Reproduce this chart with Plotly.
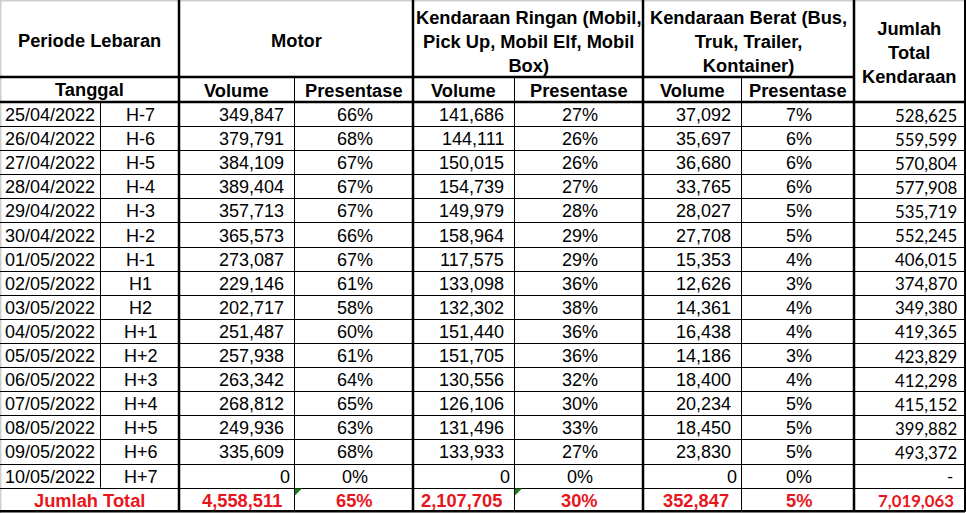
import plotly.graph_objects as go

# --- data ---
tanggal = ["25/04/2022", "26/04/2022", "27/04/2022", "28/04/2022", "29/04/2022",
           "30/04/2022", "01/05/2022", "02/05/2022", "03/05/2022", "04/05/2022",
           "05/05/2022", "06/05/2022", "07/05/2022", "08/05/2022", "09/05/2022",
           "10/05/2022"]
hari = ["H-7", "H-6", "H-5", "H-4", "H-3", "H-2", "H-1", "H1", "H2",
        "H+1", "H+2", "H+3", "H+4", "H+5", "H+6", "H+7"]
motor_vol = [349847, 379791, 384109, 389404, 357713, 365573, 273087, 229146,
             202717, 251487, 257938, 263342, 268812, 249936, 335609, 0]
motor_pct = [66, 68, 67, 67, 67, 66, 67, 61, 58, 60, 61, 64, 65, 63, 68, 0]
ringan_vol = [141686, 144111, 150015, 154739, 149979, 158964, 117575, 133098,
              132302, 151440, 151705, 130556, 126106, 131496, 133933, 0]
ringan_pct = [27, 26, 26, 27, 28, 29, 29, 36, 38, 36, 36, 32, 30, 33, 27, 0]
berat_vol = [37092, 35697, 36680, 33765, 28027, 27708, 15353, 12626,
             14361, 16438, 14186, 18400, 20234, 18450, 23830, 0]
berat_pct = [7, 6, 6, 6, 5, 5, 4, 3, 4, 4, 3, 4, 5, 5, 5, 0]
total_kend = [528625, 559599, 570804, 577908, 535719, 552245, 406015, 374870,
              349380, 419365, 423829, 412298, 415152, 399882, 493372, None]

jumlah_vol = [4558511, 2107705, 352847]
jumlah_pct = [65, 30, 5]
jumlah_total = 7019063

# --- layout geometry (pixels) ---
W, H = 966, 513
X = [0, 100, 179, 294, 413, 514, 643, 741, 854, 965]
HEAD1, HEAD2 = 77, 102
ROW_H = 24.1
n = len(tanggal)
Y_TOT = HEAD2 + n * ROW_H
Y_END = Y_TOT + ROW_H

FONT = "Liberation Sans, Arial, sans-serif"
FONT2 = "Lato, Calibri, sans-serif"
FS = 18
FS_BOLD = 18.3
FS2 = 16.8
RED = "#e8161c"

fig = go.Figure()
shapes = []


def line(x0, y0, x1, y1, w=1, color="black"):
    shapes.append(dict(type="line", xref="x", yref="y", x0=x0, y0=y0, x1=x1, y1=y1,
                       line=dict(color=color, width=w)))


# frame of the screenshot
line(0.5, 0, 0.5, H, 2, "#cfcfcf")
line(0, 0.5, W, 0.5, 2, "#cfcfcf")

# horizontal rules
line(0, HEAD1, X[8], HEAD1, 2.5)
line(0, HEAD2, W, HEAD2, 2.5)
for i in range(1, n + 1):
    yy = round(HEAD2 + i * ROW_H) + 0.5
    line(0, yy, X[9], yy, 1)
line(0, Y_END - 0.5, X[9], Y_END - 0.5, 2.5)

# vertical rules
for xx in [X[2], X[4], X[6], X[8]]:
    line(xx, 0, xx, Y_END, 2.5)
for xx in [X[3], X[5], X[7]]:
    line(xx + 0.5, HEAD1, xx + 0.5, Y_END, 1)
line(X[1] + 0.5, HEAD2, X[1] + 0.5, Y_TOT, 1)
line(X[9], 0, X[9], Y_END, 2)

# green error-indicator triangles
for xx in [X[3], X[5]]:
    shapes.append(dict(type="path", xref="x", yref="y",
                       path=f"M {xx+1},{Y_TOT+1} L {xx+8},{Y_TOT+1} L {xx+1},{Y_TOT+8} Z",
                       fillcolor="#1f7a1f", line=dict(width=0)))

ann = []


def text(x, y, s, anchor="center", bold=False, color="black", family=FONT, size=None):
    if size is None:
        size = FS_BOLD if bold else FS
    if bold:
        s = f"<b>{s}</b>"
    ann.append(dict(x=x, y=y, xref="x", yref="y", text=s, showarrow=False,
                    xanchor=anchor, yanchor="middle",
                    font=dict(family=family, size=size, color=color)))


# header
mid = lambda a, b: (a + b) / 2
text(mid(X[0], X[2]), 40, "Periode Lebaran", bold=True)
text(mid(X[2], X[4]), 40, "Motor", bold=True)
text(mid(X[4], X[6]), 41, "Kendaraan Ringan (Mobil,<br>Pick Up, Mobil Elf, Mobil<br>Box)", bold=True)
text(mid(X[6], X[8]), 41, "Kendaraan Berat (Bus,<br>Truk, Trailer,<br>Kontainer)", bold=True)
text(mid(X[8], X[9]), 52, "Jumlah<br>Total<br>Kendaraan", bold=True)
text(mid(X[0], X[2]), 89.5, "Tanggal", bold=True)
for k in range(3):
    text(mid(X[2 + 2 * k], X[3 + 2 * k]), 90.5, "Volume", bold=True)
    text(mid(X[3 + 2 * k], X[4 + 2 * k]), 90.5, "Presentase", bold=True)


def vol_text(v):
    return f"{v:,}"


# body
for i in range(n):
    yc = HEAD2 + (i + 0.5) * ROW_H + 1
    text(X[0] + 3, yc, tanggal[i], anchor="left")
    text(mid(X[1], X[2]) + 1, yc, hari[i])
    vols = [motor_vol[i], ringan_vol[i], berat_vol[i]]
    pcts = [motor_pct[i], ringan_pct[i], berat_pct[i]]
    for k in range(3):
        right = X[3 + 2 * k]
        off = 8 if vols[k] else 2
        text(right - off, yc, vol_text(vols[k]), anchor="right")
        text(mid(X[3 + 2 * k], X[4 + 2 * k]) + 1, yc, f"{pcts[k]}%")
    if total_kend[i] is None:
        text(X[9] - 10, yc, "-", anchor="right", family=FONT2, size=FS2)
    else:
        text(X[9] - 6, yc, vol_text(total_kend[i]), anchor="right", family=FONT2, size=FS2)

# total row
yc = Y_TOT + ROW_H / 2 + 1
text(mid(X[0], X[2]), yc, "Jumlah Total", bold=True, color=RED)
for k in range(3):
    text(X[3 + 2 * k] - 10, yc, vol_text(jumlah_vol[k]), anchor="right", bold=True, color=RED)
    text(mid(X[3 + 2 * k], X[4 + 2 * k]) + 1, yc, f"{jumlah_pct[k]}%", bold=True, color=RED)
text(X[9] - 9, yc, vol_text(jumlah_total), anchor="right", bold=True, color=RED,
     family=FONT2, size=FS2)

fig.update_layout(
    width=W, height=H,
    margin=dict(l=0, r=0, t=0, b=0),
    paper_bgcolor="white", plot_bgcolor="white",
    xaxis=dict(range=[0, W], visible=False, fixedrange=True),
    yaxis=dict(range=[H, 0], visible=False, fixedrange=True),
    shapes=shapes, annotations=ann, showlegend=False,
)

# the page's default body margin would push the table 8px down and right
fig.write_html("out.html", config={"displayModeBar": False},
               post_script="document.body.style.margin='0';document.body.style.overflow='hidden';")
